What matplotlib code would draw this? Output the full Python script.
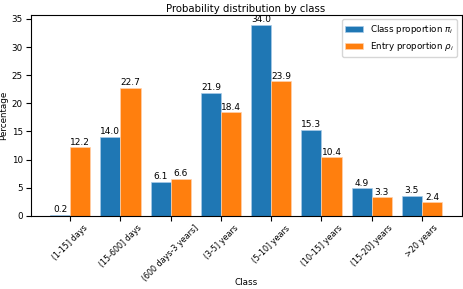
import numpy as np
import matplotlib
matplotlib.use('Agg')
import matplotlib.pyplot as plt

# 데이터
classes = ["(1-15] days", "(15-600] days", "(600 days-3 years]", "(3-5] years",
           "(5-10] years", "(10-15] years", "(15-20] years", ">20 years"]
class_prop = [0.2, 14.0, 6.1, 21.9, 34.0, 15.3, 4.9, 3.5]
entry_prop = [12.2, 22.7, 6.6, 18.4, 23.9, 10.4, 3.3, 2.4]

plt.rcParams['font.size'] = 6.3

fig, ax = plt.subplots(figsize=(4.63, 2.89), dpi=100)
x = np.arange(len(classes))
w = 0.4

b1 = ax.bar(x - w / 2, class_prop, w, color='#1f77b4', edgecolor='#a9cbe8',
            linewidth=0.5, label=r'Class proportion $\pi_i$')
b2 = ax.bar(x + w / 2, entry_prop, w, color='#ff7f0e', edgecolor='#ffd2ad',
            linewidth=0.5, label=r'Entry proportion $\rho_i$')
ax.bar_label(b1, fmt='%.1f', padding=0.5, fontsize=6.5)
ax.bar_label(b2, fmt='%.1f', padding=0.5, fontsize=6.5)

ax.set_xticks(x)
ax.set_xticklabels(classes, rotation=45, ha='center', fontsize=5.8)
ax.tick_params(axis='x', pad=2)
ax.tick_params(axis='y', pad=2)
ax.set_xlabel('Class', fontsize=6.3)
ax.xaxis.set_label_coords(0.5, -0.31)
ax.set_ylabel('Percentage')
ax.yaxis.set_label_coords(-0.052, 0.5)
ax.set_title('Probability distribution by class', fontsize=7.3, pad=2)
ax.legend(loc='upper right', fontsize=6.3)

fig.subplots_adjust(left=0.066, right=0.997, top=0.948, bottom=0.253)
fig.savefig('out.png', dpi=100, facecolor='white')
